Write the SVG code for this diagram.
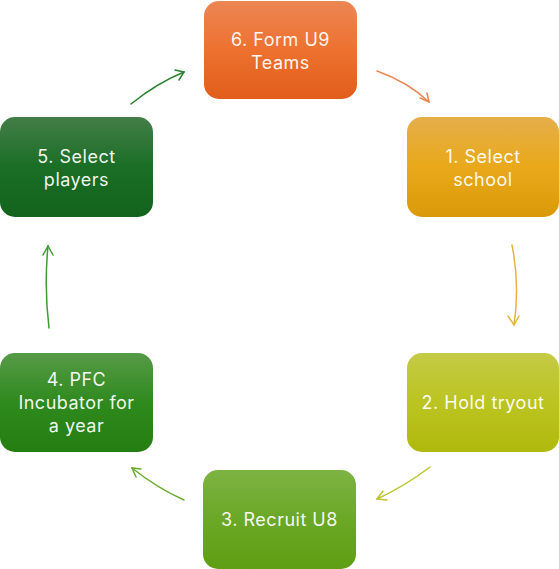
<svg xmlns="http://www.w3.org/2000/svg" width="559" height="569" viewBox="0 0 559 569">
<style>
.box{stroke:none}
.lbl{font-family:Inter,"Liberation Sans",sans-serif;font-size:18px;letter-spacing:0.5px;fill:#FFFFFF;fill-opacity:0.95;text-anchor:middle;dominant-baseline:central}
.arr{fill:none;stroke-width:1.5;stroke-linecap:round}
</style>
<defs>
<linearGradient id="g6" x1="0" y1="0" x2="0" y2="1"><stop offset="0" stop-color="#EC8653"/><stop offset="0.5" stop-color="#EE7130"/><stop offset="1" stop-color="#E15D1A"/></linearGradient>
<linearGradient id="g1" x1="0" y1="0" x2="0" y2="1"><stop offset="0" stop-color="#E4AE4A"/><stop offset="0.5" stop-color="#E9A91A"/><stop offset="1" stop-color="#D99908"/></linearGradient>
<linearGradient id="g2" x1="0" y1="0" x2="0" y2="1"><stop offset="0" stop-color="#C4CB46"/><stop offset="0.5" stop-color="#BCC421"/><stop offset="1" stop-color="#B0B90C"/></linearGradient>
<linearGradient id="g3" x1="0" y1="0" x2="0" y2="1"><stop offset="0" stop-color="#7DB343"/><stop offset="0.5" stop-color="#6BA826"/><stop offset="1" stop-color="#5E9E12"/></linearGradient>
<linearGradient id="g4" x1="0" y1="0" x2="0" y2="1"><stop offset="0" stop-color="#569A47"/><stop offset="0.5" stop-color="#2F8A1E"/><stop offset="1" stop-color="#247D10"/></linearGradient>
<linearGradient id="g5" x1="0" y1="0" x2="0" y2="1"><stop offset="0" stop-color="#447E49"/><stop offset="0.5" stop-color="#1A6E25"/><stop offset="1" stop-color="#13631C"/></linearGradient>
</defs>
<g id="connectors">
<path class="arr" stroke="#EC8552" d="M377,71 Q408,82 429,102"/>
<path class="arr" stroke="#EC8552" d="M420,98 L429,102 L427,93"/>
<path class="arr" stroke="#E6B245" d="M512,245 Q520,285 514,325"/>
<path class="arr" stroke="#E6B245" d="M508,316 L514,325 L519,316"/>
<path class="arr" stroke="#BCC42E" d="M430,467 Q405,486 377,499"/>
<path class="arr" stroke="#BCC42E" d="M383,491 L377,499 L387,500"/>
<path class="arr" stroke="#6BAA2E" d="M184,500 Q157,488 132,468"/>
<path class="arr" stroke="#6BAA2E" d="M136,477 L132,468 L141,469"/>
<path class="arr" stroke="#3F9A33" d="M49,328 Q44,287 48,246"/>
<path class="arr" stroke="#3F9A33" d="M43,255 L48,246 L53,255"/>
<path class="arr" stroke="#2E8032" d="M131,104 Q157,83 184,72"/>
<path class="arr" stroke="#2E8032" d="M175,70 L184,72 L179,80"/>
</g>
<g id="node6"><rect class="box" x="204" y="1" width="153" height="98" rx="15" fill="url(#g6)"/><text class="lbl" x="280.5" y="39">6. Form U9</text><text class="lbl" x="280.5" y="62">Teams</text></g>
<g id="node1"><rect class="box" x="407" y="117" width="152" height="100" rx="15" fill="url(#g1)"/><text class="lbl" x="483" y="156">1. Select</text><text class="lbl" x="483" y="179">school</text></g>
<g id="node2"><rect class="box" x="407" y="353" width="152" height="99" rx="15" fill="url(#g2)"/><text class="lbl" x="483" y="402">2. Hold tryout</text></g>
<g id="node3"><rect class="box" x="203" y="470" width="153" height="99" rx="15" fill="url(#g3)"/><text class="lbl" x="279.5" y="519">3. Recruit U8</text></g>
<g id="node4"><rect class="box" x="0" y="353" width="153" height="99" rx="15" fill="url(#g4)"/><text class="lbl" x="76.5" y="379">4. PFC</text><text class="lbl" x="76.5" y="402">Incubator for</text><text class="lbl" x="76.5" y="425">a year</text></g>
<g id="node5"><rect class="box" x="0" y="117" width="153" height="100" rx="15" fill="url(#g5)"/><text class="lbl" x="76.5" y="156">5. Select</text><text class="lbl" x="76.5" y="179">players</text></g>
</svg>
